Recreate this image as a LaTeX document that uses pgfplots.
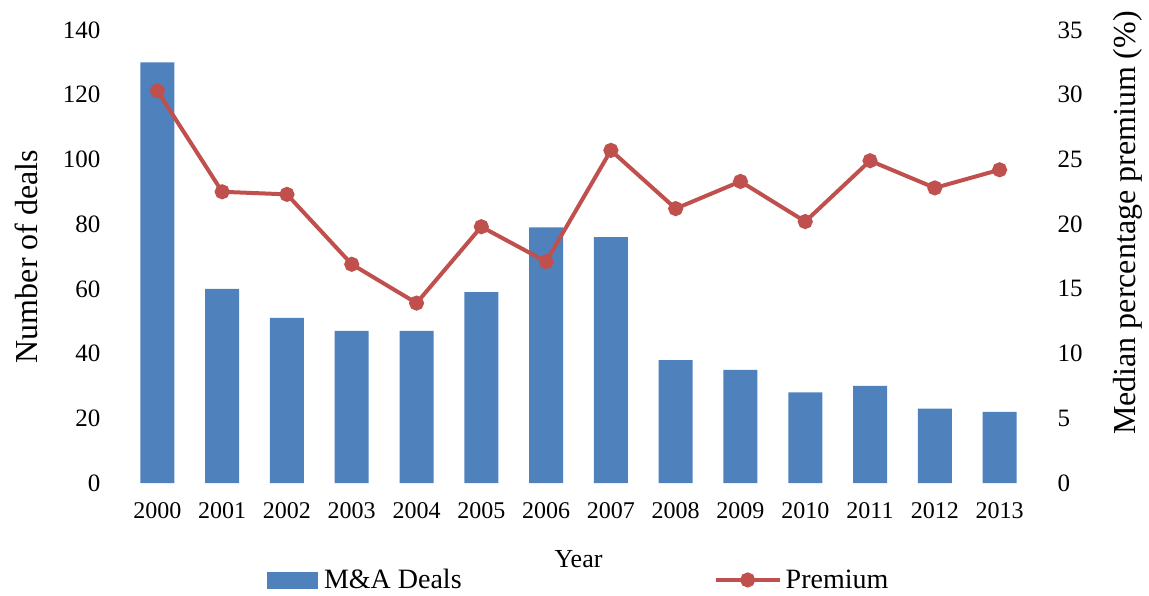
\documentclass[border=0pt]{standalone}
\usepackage{pgfplots}
\pgfplotsset{compat=1.18}
\usepackage{fontspec}
\setmainfont{Liberation Serif}
\definecolor{barblue}{HTML}{4F81BD}
\definecolor{linered}{HTML}{C0504D}
\begin{document}
\begin{tikzpicture}
\useasboundingbox (-125pt,-112pt) rectangle (1024pt,483pt);
\begin{axis}[
  scale only axis, width=907pt, height=453pt,
  at={(0pt,0pt)}, anchor=south west,
  xmin=-0.5, xmax=13.5, ymin=0, ymax=140,
  ytick={0,20,...,140},
  xtick={0,1,...,13},
  xticklabels={2000,2001,2002,2003,2004,2005,2006,2007,2008,2009,2010,2011,2012,2013},
  axis line style={draw=none}, major tick length=0pt,
  /pgf/number format/assume math mode=true,
  yticklabel style={font=\fontsize{25}{25}\selectfont, xshift=-21pt},
  xticklabel style={font=\fontsize{24}{24}\selectfont, yshift=-16pt},
  ylabel={Number of deals},
  every axis y label/.style={at={(axis description cs:-0.109,0.5)}, anchor=center, rotate=90, font=\fontsize{32}{32}\selectfont},
  xlabel={Year},
  every axis x label/.style={at={(axis description cs:0.5,-0.168)}, anchor=center, font=\fontsize{26}{26}\selectfont},
]
\addplot[ybar, bar width=34pt, fill=barblue, draw=none] coordinates {
(0,130) (1,60) (2,51) (3,47) (4,47) (5,59) (6,79) (7,76) (8,38) (9,35) (10,28) (11,30) (12,23) (13,22)};
\end{axis}
\begin{axis}[
  scale only axis, width=907pt, height=453pt,
  at={(0pt,0pt)}, anchor=south west,
  xmin=-0.5, xmax=13.5, ymin=0, ymax=35,
  ytick={0,5,...,35}, xtick=\empty,
  axis y line*=right, axis x line=none,
  axis line style={draw=none}, major tick length=0pt,
  /pgf/number format/assume math mode=true,
  yticklabel style={font=\fontsize{25}{25}\selectfont, xshift=22pt},
  ylabel={Median percentage premium (\%)},
  every axis y label/.style={at={(axis description cs:1.106,0.574)}, anchor=center, rotate=90, font=\fontsize{32}{32}\selectfont},
  legend columns=2,
  legend style={at={(axis description cs:0.5,-0.214)}, anchor=center, draw=none, fill=none,
    font=\fontsize{28}{28}\selectfont, inner sep=0pt,
    /tikz/every odd column/.append style={column sep=0pt},
    /tikz/every even column/.append style={column sep=250pt}},
]
\addlegendimage{legend image code/.code={\fill[barblue] (0pt,-8pt) rectangle (50pt,8pt);}}
\addlegendentry{\hspace{5pt}M\&A Deals}
\addplot[color=linered, line width=4pt, mark=*, mark size=5.5pt,
  legend image code/.code={\draw[linered, line width=4pt] (0pt,0pt) -- (64pt,0pt); \fill[linered] (32pt,0pt) circle (5.5pt);}]
coordinates {
(0,30.3) (1,22.5) (2,22.3) (3,16.9) (4,13.9) (5,19.8) (6,17.1) (7,25.7) (8,21.2) (9,23.3) (10,20.2) (11,24.9) (12,22.8) (13,24.2)};
\addlegendentry{\hspace{2pt}Premium}
\end{axis}
\end{tikzpicture}
\end{document}
